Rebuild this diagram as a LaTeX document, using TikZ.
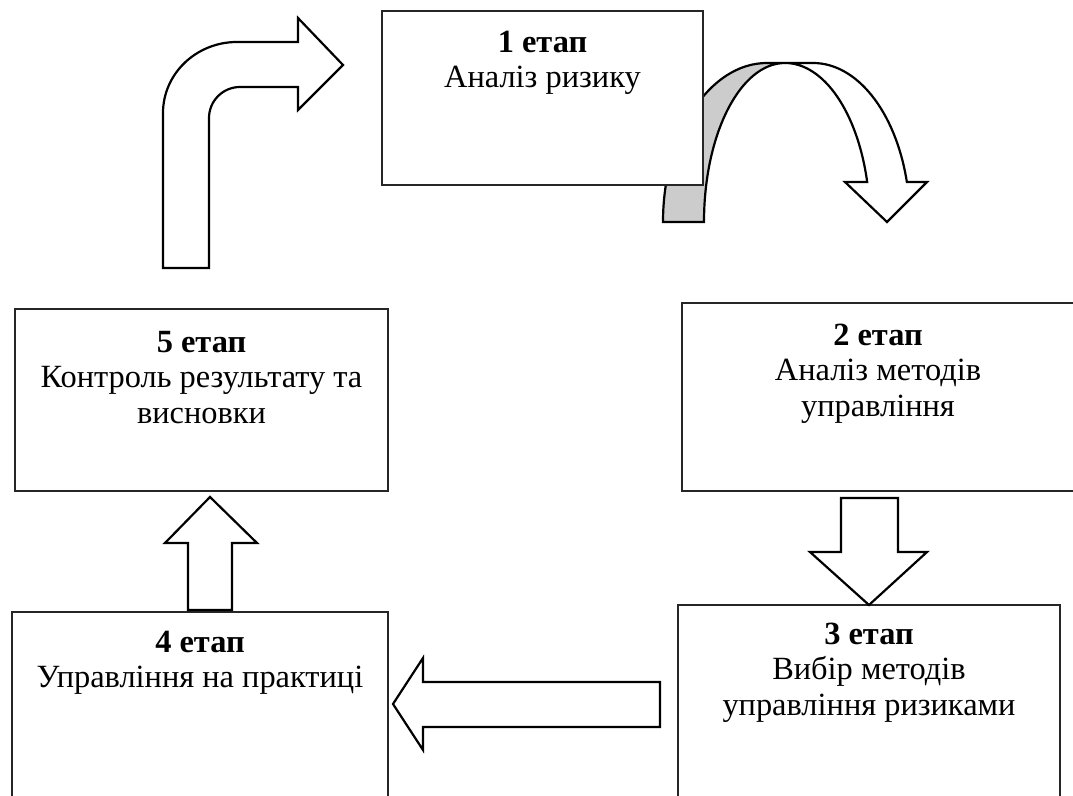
\documentclass[tikz,border=0pt]{standalone}
\usepackage{fontspec}
\setmainfont{Liberation Serif}
\begin{document}
\begin{tikzpicture}[x=0.5pt,y=-0.5pt,
  box/.style={draw=black!85, line width=0.6pt, fill=white, rectangle, inner sep=0pt, outer sep=0pt, anchor=north west},
  txt/.style={align=center, inner sep=0pt, anchor=north, font=\fontsize{16.2}{17.8}\selectfont},
  blockarrow/.style={draw=black, line width=1.1pt, fill=white, line join=miter},
  backpart/.style={draw=black, line width=1.1pt, fill=gray!40, line join=miter}]
\path[use as bounding box] (0,0) rectangle (1073,796);
\clip (0,0) rectangle (1073,796);

% curved arrow from stage 1 to stage 2 (back part, then front)
\path[backpart] (663,222) arc[start angle=180, end angle=270, x radius=104, y radius=159]
  -- (785,63) arc[start angle=270, end angle=180, x radius=81, y radius=159] -- cycle;
\path[blockarrow] (785,63) -- (813,63)
  arc[start angle=-90, end angle=-14.57, x radius=97, y radius=159]
  -- (927,182) -- (887,222) -- (845,182) -- (867.2,182)
  arc[start angle=-14.57, end angle=-90, x radius=85, y radius=159] -- cycle;

% boxes
\node[box, minimum width=160.5pt, minimum height=87pt] (b1) at (382,11) {};
\node[box, minimum width=196pt, minimum height=94pt] (b2) at (682,303) {};
\node[box, minimum width=191pt, minimum height=150pt] (b3) at (678,605) {};
\node[box, minimum width=188pt, minimum height=150pt] (b4) at (12,612) {};
\node[box, minimum width=186.5pt, minimum height=91pt] (b5) at (15,309) {};

% texts
\node[txt] (t1) at (542.5,27) {\strut\textbf{1 етап}\\Аналіз ризику};
\node[txt] (t2) at (878,320) {\strut\textbf{2 етап}\\Аналіз методів\\управління};
\node[txt] (t3) at (869,619) {\strut\textbf{3 етап}\\Вибір методів\\управління ризиками};
\node[txt] (t4) at (200,627) {\strut\textbf{4 етап}\\Управління на практиці};
\node[txt] (t5) at (201.5,327) {\strut\textbf{5 етап}\\Контроль результату та\\висновки};

% down arrow 2 -> 3
\path[blockarrow] (841,498) -- (898,498) -- (898,552) -- (927,552) -- (869,605)
  -- (810,552) -- (841,552) -- cycle;
% left arrow 3 -> 4
\path[blockarrow] (660,682) -- (423,682) -- (423,658) -- (393,704) -- (423,750)
  -- (423,727) -- (660,727) -- cycle;
% up arrow 4 -> 5
\path[blockarrow] (188,610) -- (188,543) -- (165,543) -- (210,497) -- (257,543)
  -- (232,543) -- (232,610) -- cycle;
% bent arrow 5 -> 1
\path[blockarrow] (163,268) -- (163,113)
  arc[start angle=180, end angle=270, x radius=74, y radius=71]
  -- (298,42) -- (298,18) -- (343,65) -- (298,110) -- (298,87) -- (240,87)
  arc[start angle=270, end angle=180, radius=31]
  -- (209,268) -- cycle;
\end{tikzpicture}
\end{document}
